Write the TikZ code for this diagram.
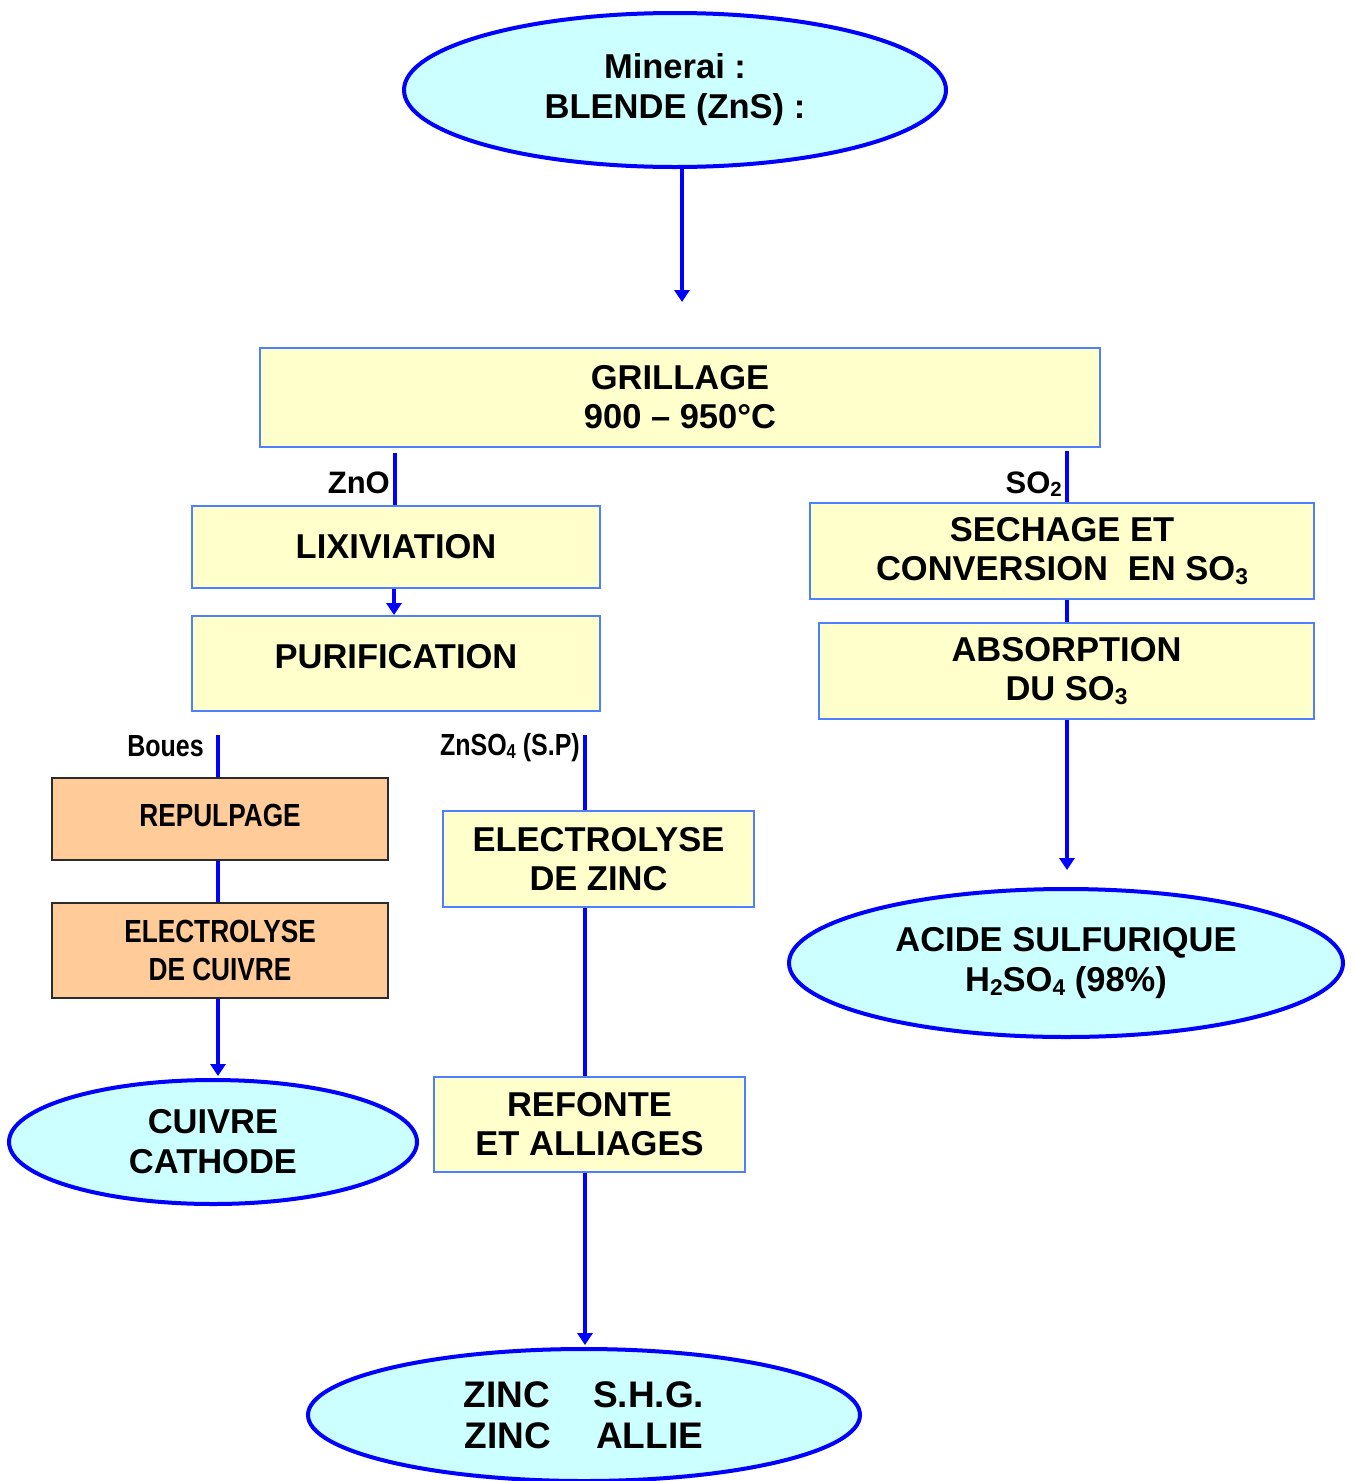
\documentclass[tikz,border=0pt]{standalone}
\usepackage{fontspec}
\setmainfont{Liberation Sans}
\newfontfamily\narrowfont[FakeStretch=0.82]{Liberation Sans}
\usetikzlibrary{shapes.geometric,arrows.meta}
\definecolor{cyanfill}{HTML}{CCFFFF}
\definecolor{boxfill}{HTML}{FFFFCC}
\definecolor{boxline}{HTML}{4D7FFF}
\definecolor{orfill}{HTML}{FFCC99}
\definecolor{orline}{HTML}{2B2B2B}
\definecolor{flow}{HTML}{0000FF}
\newcommand\subs[1]{\raisebox{-0.12em}{\scalebox{0.66}{#1}}}
\begin{document}
\begin{tikzpicture}[x=1pt,y=-1pt,
  every node/.style={font=\bfseries},
  oval/.style={ellipse, draw=flow, line width=4pt, fill=cyanfill, inner sep=0pt, align=center, font=\bfseries\fontsize{34.5}{40}\selectfont},
  ybox/.style={rectangle, draw=boxline, line width=2pt, fill=boxfill, inner sep=0pt, align=center, font=\bfseries\fontsize{34.5}{39}\selectfont},
  obox/.style={rectangle, draw=orline, line width=2pt, fill=orfill, inner sep=0pt, align=center, font=\narrowfont\bfseries\fontsize{32}{38}\selectfont},
  flowline/.style={draw=flow, line width=4pt},
  flowarrow/.style={flowline, -{Triangle[width=15pt,length=12pt]}},
  lbl/.style={inner sep=0pt, anchor=base east, font=\bfseries\fontsize{31}{36}\selectfont},
  nlbl/.style={inner sep=0pt, anchor=base east, font=\narrowfont\bfseries\fontsize{30.5}{36}\selectfont}
]
\useasboundingbox (0,0) rectangle (1353,1481);

% ovals
\node[oval, minimum width=542pt, minimum height=154pt] (minerai) at (675,90) {Minerai :\\BLENDE (ZnS) :};
\node[oval, minimum width=554pt, minimum height=148pt] (acide) at (1066,963) {ACIDE SULFURIQUE\\H\subs{2}SO\subs{4} (98\%)};
\node[oval, minimum width=408pt, minimum height=124pt] (cuivre) at (213,1142) {CUIVRE\\CATHODE};
\node[oval, minimum width=552pt, minimum height=132pt, font=\bfseries\fontsize{37}{41}\selectfont] (zinc) at (584,1415) {ZINC\hspace{43pt}S.H.G.\\ZINC\hspace{45pt}ALLIE};

% yellow boxes
\node[ybox, minimum width=840pt, minimum height=99pt] (grill) at (680,397.5) {GRILLAGE\\900 -- 950°C};
\node[ybox, minimum width=408pt, minimum height=82pt] (lix) at (396,547) {LIXIVIATION};
\node[ybox, minimum width=408pt, minimum height=95pt] (pur) at (396,663.5) {\raisebox{14pt}{PURIFICATION}};
\node[ybox, minimum width=504pt, minimum height=96pt] (sech) at (1062,551) {SECHAGE ET\\CONVERSION\hspace{0.3em} EN SO\subs{3}};
\node[ybox, minimum width=495pt, minimum height=96pt] (abs) at (1066.5,671) {ABSORPTION\\DU SO\subs{3}};
\node[ybox, minimum width=311pt, minimum height=96pt] (elzn) at (598.5,859) {ELECTROLYSE\\DE ZINC};
\node[ybox, minimum width=311pt, minimum height=95pt] (ref) at (589.5,1124.5) {REFONTE\\ET ALLIAGES};

% orange boxes
\node[obox, minimum width=336pt, minimum height=82pt] (rep) at (220,819) {\raisebox{8pt}{REPULPAGE}};
\node[obox, minimum width=336pt, minimum height=95pt] (elcu) at (220,950.5) {ELECTROLYSE\\DE CUIVRE};

% labels
\node[lbl] (lzno) at (390,493) {ZnO};
\node[lbl] (lso2) at (1062,493) {SO\subs{2}};
\node[nlbl] (lboues) at (204,756) {Boues};
\node[nlbl] (lznso4) at (580,755) {ZnSO\subs{4} (S.P)};

% free ends
\coordinate (a1) at (682,302);
\coordinate (s1) at (395,453);
\coordinate (s2) at (1067,451);
\coordinate (a2) at (1067,870);
\coordinate (s3) at (218,735);
\coordinate (a3) at (218,1076);
\coordinate (s4) at (585,735);
\coordinate (a4) at (585,1345);

% connectors
\draw[flowarrow] (a1 |- minerai.south) -- (a1);
\draw[flowline] (s1) -- (s1 |- lix.north);
\draw[flowarrow] (394,0 |- lix.south) -- (394,0 |- pur.north);
\draw[flowline] (s2) -- (s2 |- sech.north);
\draw[flowline] (s2 |- sech.south) -- (s2 |- abs.north);
\draw[flowarrow] (s2 |- abs.south) -- (a2);
\draw[flowline] (s3) -- (s3 |- rep.north);
\draw[flowline] (s3 |- rep.south) -- (s3 |- elcu.north);
\draw[flowarrow] (s3 |- elcu.south) -- (a3);
\draw[flowline] (s4) -- (s4 |- elzn.north);
\draw[flowline] (s4 |- elzn.south) -- (s4 |- ref.north);
\draw[flowarrow] (s4 |- ref.south) -- (a4);
\end{tikzpicture}
\end{document}
